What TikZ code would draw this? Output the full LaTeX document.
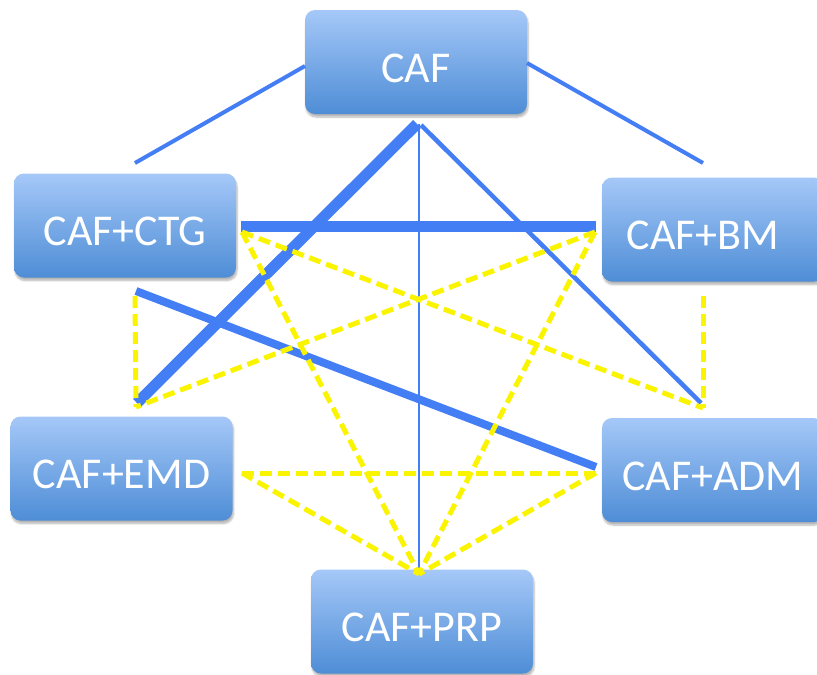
\documentclass[tikz,border=0pt]{standalone}
\usepackage{fontspec}
\setmainfont{Carlito}
\usetikzlibrary{shadows.blur}
\definecolor{boxtop}{RGB}{165,200,248}
\definecolor{boxbot}{RGB}{78,141,214}
\definecolor{linkblue}{RGB}{68,126,245}
\definecolor{linkyellow}{RGB}{250,244,0}
\tikzset{
  comp/.style={rectangle, rounded corners=10pt, minimum width=222pt, minimum height=104pt,
    inner sep=0pt, top color=boxtop, bottom color=boxbot, draw=none, text=white,
    font=\fontsize{44}{44}\selectfont, text height=40pt, text depth=0pt,
    blur shadow={shadow xshift=1pt, shadow yshift=-3pt, shadow opacity=30, shadow blur steps=6}},
  solidlink/.style={draw=linkblue, line cap=butt},
  dashlink/.style={draw=linkyellow, line width=5pt, dash pattern=on 12pt off 6pt, line join=miter},
}
\begin{document}
\begin{tikzpicture}[x=1pt,y=-1pt]
\useasboundingbox (0,0) rectangle (817,675);
\clip (0,0) rectangle (817,675);

% treatment boxes
\node[comp] (caf) at (416,62)    {CAF};
\node[comp] (ctg) at (125,225.5) {CAF+CTG};
\node[comp] (bm)  at (713,229.5) {CAF+BM\hspace*{20pt}};
\node[comp] (emd) at (121.5,468.5) {CAF+EMD};
\node[comp] (adm) at (713,470)   {CAF+ADM};
\node[comp] (prp) at (422,621.5) {CAF+PRP};

% end points of the links
\coordinate (cafL)   at (305,66);
\coordinate (cafR)   at (527,63);
\coordinate (ctgUp)  at (135,163);
\coordinate (bmUp)   at (703,163);
\coordinate (apex)   at (417,124);
\coordinate (apexV)  at (419,124);
\coordinate (apexR)  at (421,125);
\coordinate (ctgR)   at (241,226);
\coordinate (bmL)    at (596,226);
\coordinate (ctgLow) at (136,291);
\coordinate (emdHi)  at (137,403);
\coordinate (admHi)  at (701,403);
\coordinate (admL)   at (596,467);
\coordinate (prpHi)  at (419,574);
% corners of the dashed links
\coordinate (yCtg)   at (242,232);
\coordinate (yBm)    at (595,232);
\coordinate (yCtgLo) at (135,296);
\coordinate (yBmLo)  at (703,296);
\coordinate (yEmd)   at (136,407);
\coordinate (yAdm)   at (703,408);
\coordinate (yEmdR)  at (242,473);
\coordinate (yAdmL)  at (596,473);
\coordinate (yPrp)   at (419,574);

% solid links
\draw[solidlink, line width=4pt]   (cafL) -- (ctgUp);
\draw[solidlink, line width=4pt]   (cafR) -- (bmUp);
\draw[solidlink, line width=2.5pt] (apexV) -- (prpHi);
\draw[solidlink, line width=4.5pt] (apexR) -- (admHi);
\draw[solidlink, line width=8pt]   (ctgLow) -- (admL);
\draw[solidlink, line width=11pt]  (apex) -- (emdHi);
\draw[solidlink, line width=11pt]  (ctgR) -- (bmL);

% dashed links
\draw[dashlink] (yCtgLo) -- (yEmd);
\draw[dashlink] (yBmLo) -- (yAdm);
\draw[dashlink] (yCtg) -- (yPrp);
\draw[dashlink] (yCtg) -- (yAdm);
\draw[dashlink] (yBm) -- (yEmd);
\draw[dashlink] (yBm) -- (yPrp);
\draw[dashlink] (yEmdR) -- (yAdmL);
\draw[dashlink] (yEmdR) -- (yPrp);
\draw[dashlink] (yAdmL) -- (yPrp);
\end{tikzpicture}
\end{document}
